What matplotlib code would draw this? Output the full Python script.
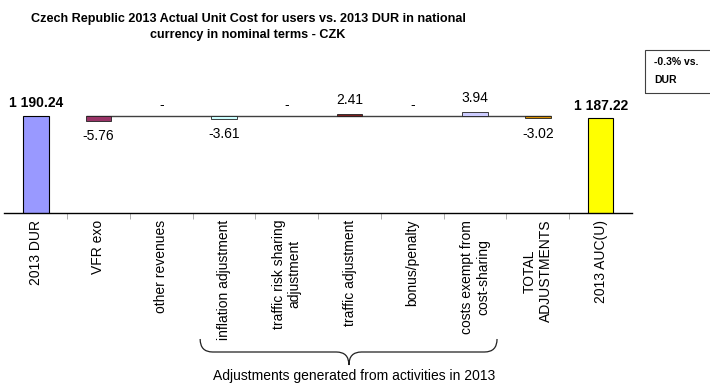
import matplotlib.pyplot as plt
from matplotlib.patches import PathPatch, Rectangle
from matplotlib.path import Path
from matplotlib.transforms import blended_transform_factory

categories = ['2013 DUR', 'VFR exo', 'other revenues', 'inflation adjustment',
              'traffic risk sharing\nadjustment', 'traffic adjustment', 'bonus/penalty',
              'costs exempt from\ncost-sharing', 'TOTAL\nADJUSTMENTS', '2013 AUC(U)']
dur_2013 = 1190.24
adjustments = [-5.76, 0.0, -3.61, 0.0, 2.41, 0.0, 3.94]
total_adjustments = -3.02
auc_2013 = 1187.22
adj_colors = ['#993366', 'none', '#CCFFFF', 'none', '#7A1E1E', 'none', '#CCCCFF']

plt.rcParams['font.family'] = ['Liberation Sans', 'DejaVu Sans']

fig = plt.figure(figsize=(7.1, 3.85), dpi=100)
ax = fig.add_axes([4.3 / 710, 172.3 / 385, 627.7 / 710, 132.7 / 385])
ax.set_xlim(-0.5, 9.5)
ax.set_ylim(1080, 1230.8)

x = list(range(len(categories)))
bw = 0.41

# level line the adjustments hang from
ax.hlines(dur_2013, 1 - bw / 2, 8 + bw / 2, color='#404040', lw=1, zorder=1)

# totals
ax.bar(0, dur_2013, width=bw, color='#9999FF', edgecolor='black', lw=0.8, zorder=2)
ax.bar(9, auc_2013, width=bw, color='#FFFF00', edgecolor='black', lw=0.8, zorder=2)
for xi, v in [(0, dur_2013), (9, auc_2013)]:
    ax.annotate(f'{v:,.2f}'.replace(',', ' '), (xi, v), xytext=(0, 4), textcoords='offset points',
                ha='center', va='bottom', fontsize=10, fontweight='bold')

# individual adjustments and their total, all starting from the DUR level
adj_x = x[1:8] + [8]
adj_vals = adjustments + [total_adjustments]
colors = adj_colors + ['#D88E00']
for xi, v, c in zip(adj_x, adj_vals, colors):
    if v != 0:
        ax.bar(xi, v, bottom=dur_2013, width=bw, color=c, edgecolor='#202020', lw=0.6, zorder=2)
    end = dur_2013 + v
    if v < 0:
        ax.annotate(f'{v:.2f}', (xi, end), xytext=(0, -6), textcoords='offset points',
                    ha='center', va='top', fontsize=10)
    else:
        ax.annotate(f'{v:.2f}' if v else '-', (xi, end), xytext=(0, 5 if v else 3),
                    textcoords='offset points', ha='center', va='bottom', fontsize=10)

for s in ['top', 'right', 'left']:
    ax.spines[s].set_visible(False)
ax.spines['bottom'].set_linewidth(1)
ax.set_yticks([])
ax.set_xticks(x, categories, rotation=90, fontsize=10)
ax.tick_params(axis='x', length=0, pad=5)
ax.set_xticks([i + 0.5 for i in range(9)], minor=True)
ax.tick_params(axis='x', which='minor', length=4, color='#A0A0A0')

# brace grouping the activity adjustments
tr = blended_transform_factory(ax.transData, fig.transFigure)
x0, xc, x1, r = 2.62, 4.99, 7.35, 0.2
ytop, ymid, ytip = 1 - 339 / 385, 1 - 352 / 385, 1 - 365 / 385
verts = [(x0, ytop), (x0, ymid), (x0 + r, ymid), (xc - r, ymid), (xc, ymid), (xc, ytip),
         (xc, ymid), (xc + r, ymid), (x1 - r, ymid), (x1, ymid), (x1, ytop)]
codes = [Path.MOVETO, Path.CURVE3, Path.CURVE3, Path.LINETO, Path.CURVE3, Path.CURVE3,
         Path.CURVE3, Path.CURVE3, Path.LINETO, Path.CURVE3, Path.CURVE3]
fig.add_artist(PathPatch(Path(verts, codes), transform=tr, fill=False, lw=0.9, ec='#202020'))
fig.text(5.07, 1 - 376 / 385, 'Adjustments generated from activities in 2013', transform=tr,
         ha='center', va='center', fontsize=10)

fig.text(248 / 710, 1 - 27 / 385,
         'Czech Republic 2013 Actual Unit Cost for users vs. 2013 DUR in national\n'
         'currency in nominal terms - CZK',
         ha='center', va='center', fontsize=9.1, fontweight='bold', linespacing=1.35)

# change box
fig.add_artist(Rectangle((645 / 710, 1 - 93 / 385), 80 / 710, 43 / 385,
                         transform=fig.transFigure, fill=False, lw=0.8, ec='#404040'))
fig.text(654 / 710, 1 - 62 / 385, '-0.3% vs.', fontsize=7.5, fontweight='bold', va='center')
fig.text(654 / 710, 1 - 80 / 385, 'DUR', fontsize=7.5, fontweight='bold', va='center')

fig.savefig('out.png', dpi=100)
